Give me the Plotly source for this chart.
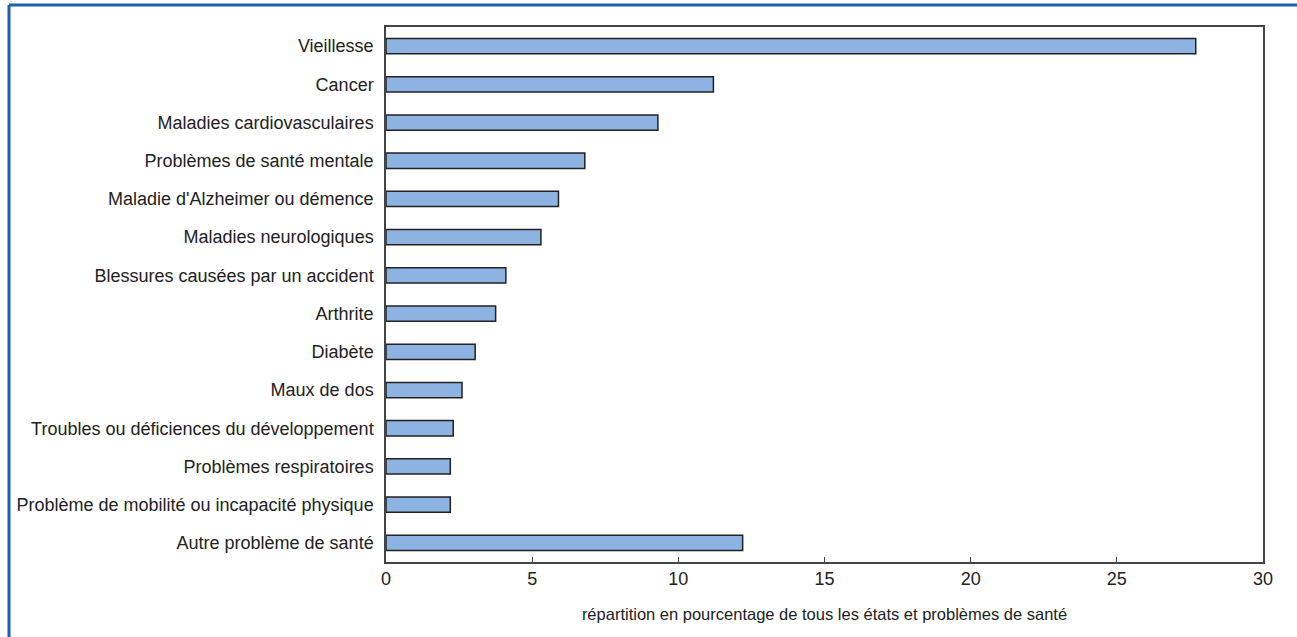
import plotly.graph_objects as go

categories = [
    "Vieillesse",
    "Cancer",
    "Maladies cardiovasculaires",
    "Problèmes de santé mentale",
    "Maladie d'Alzheimer ou démence",
    "Maladies neurologiques",
    "Blessures causées par un accident",
    "Arthrite",
    "Diabète",
    "Maux de dos",
    "Troubles ou déficiences du développement",
    "Problèmes respiratoires",
    "Problème de mobilité ou incapacité physique",
    "Autre problème de santé",
]
values = [27.7, 11.2, 9.3, 6.8, 5.9, 5.3, 4.1, 3.75, 3.05, 2.6, 2.3, 2.2, 2.2, 12.2]
x_ticks = [0, 5, 10, 15, 20, 25, 30]
x_title = "répartition en pourcentage de tous les états et problèmes de santé"

W, H = 1297, 637
L, R, T, B = 386, 34, 27, 75
pw, ph = W - L - R, H - T - B

def px(x):
    return (x - L) / pw

def py(y):
    return (H - B - y) / ph

FONT = "Liberation Sans, Arial, sans-serif"

fig = go.Figure(
    go.Bar(
        x=values,
        y=categories,
        orientation="h",
        marker=dict(color="#8DB3E2", line=dict(color="#222222", width=1.5)),
        width=0.4,
    )
)

fig.update_layout(
    width=W,
    height=H,
    margin=dict(l=L, r=R, t=T, b=B, pad=0),
    paper_bgcolor="white",
    plot_bgcolor="white",
    showlegend=False,
    font=dict(family=FONT, size=18, color="#222222"),
    xaxis=dict(
        range=[0, 30],
        tickvals=x_ticks,
        ticktext=[str(v) for v in x_ticks],
        ticks="inside",
        ticklen=5,
        tickcolor="#444444",
        showgrid=False,
        zeroline=False,
        showline=True,
        linecolor="#444444",
        linewidth=1.5,
        mirror=True,
        title=dict(text=x_title, font=dict(family=FONT, size=16.5), standoff=20),
        tickfont=dict(family=FONT, size=18),
    ),
    yaxis=dict(
        autorange="reversed",
        showgrid=False,
        zeroline=False,
        showline=True,
        linecolor="#444444",
        linewidth=1.5,
        mirror=True,
        ticks="outside",
        ticklen=7,
        tickcolor="rgba(0,0,0,0)",
        tickfont=dict(family=FONT, size=18),
    ),
    shapes=[
        dict(type="line", xref="paper", yref="paper",
             x0=px(9), x1=px(9), y0=py(5), y1=py(H + 5),
             line=dict(color="#1F5FA6", width=3)),
        dict(type="line", xref="paper", yref="paper",
             x0=px(9), x1=px(W + 5), y0=py(5), y1=py(5),
             line=dict(color="#1F5FA6", width=3)),
    ],
)

fig.write_html(
    "out.html",
    config={"displayModeBar": False},
    post_script="document.body.style.margin='0px';",
)
